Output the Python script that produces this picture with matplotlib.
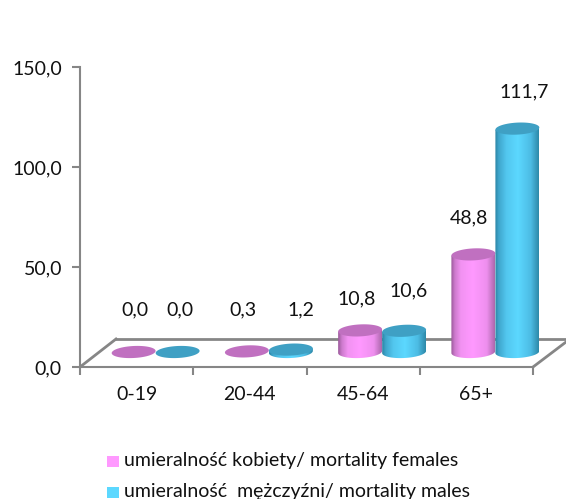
import numpy as np
import matplotlib
matplotlib.use("Agg")
import matplotlib.pyplot as plt
from matplotlib.colors import LinearSegmentedColormap
from matplotlib.patches import PathPatch, Polygon, Rectangle
from matplotlib.path import Path

categories = ["0-19", "20-44", "45-64", "65+"]
females = [0.0, 0.3, 10.8, 48.8]
males = [0.0, 1.2, 10.6, 111.7]
y_ticks = [0, 50, 100, 150]
series_names = ["umieralność kobiety/ mortality females", "umieralność  mężczyźni/ mortality males"]

# label offsets from the top of each cylinder, in pixels (placed by hand in the original)
female_label_off = [(1, 42), (-4, 42), (-3, 32), (-4, 37)]
male_label_off = [(2, 42), (10, 40), (4, 40), (7, 37)]

W, H = 566, 499
plt.rcParams["font.family"] = ["Lato", "DejaVu Sans"]
fs = 14
grey = "#868686"
txt = "#111111"

fig = plt.figure(figsize=(W / 100, H / 100), dpi=100)
left, right, top, bottom = 80, 533, 67, 367
ax = fig.add_axes([left / W, 1 - bottom / H, (right - left) / W, (bottom - top) / H])
px_x = 4 / (right - left)
px_y = 150 / (bottom - top)

# floor depth
depth_x, depth_y = 36, 28
back_x = [0 + depth_x * px_x, 4 + 33 * px_x]
ax.plot(back_x, [depth_y * px_y] * 2, color=grey, lw=2, clip_on=False, zorder=1)
ax.plot([0, depth_x * px_x], [0, depth_y * px_y], color=grey, lw=2, clip_on=False, zorder=1)
ax.plot([4, 4 + 33 * px_x], [0, 25 * px_y], color=grey, lw=2, clip_on=False, zorder=1)

pink_map = LinearSegmentedColormap.from_list("p", [(0, "#9C5A9C"), (0.08, "#CC7ACC"), (0.22, "#F292F2"), (0.5, "#FF99FF"), (0.82, "#EE8FEE"), (1, "#AD68AD")])
blue_map = LinearSegmentedColormap.from_list("b", [(0, "#2C86A6"), (0.08, "#3FA6CC"), (0.25, "#52C6EE"), (0.52, "#5CD8FF"), (0.82, "#4CBCE4"), (1, "#2E8AAA")])

bar_w = 44 * px_x
ell_h = 12 * px_y
base = 15 * px_y
shift = 19 * px_x
tilt = np.radians(3)


def ellipse_xy(cx, cy, t):
    a, b = 22.0, 6.0
    ex = a * np.cos(t) * np.cos(tilt) - b * np.sin(t) * np.sin(tilt)
    ey = a * np.cos(t) * np.sin(tilt) + b * np.sin(t) * np.cos(tilt)
    return cx + ex * px_x, cy + ey * px_y


def cylinder(cx, val, cmap, top_col, z):
    y_top = base + val
    if val > 0.5:
        # body: sides plus the lower half of the base ellipse
        t = np.linspace(np.pi, 2 * np.pi, 40)
        bx, by = ellipse_xy(cx, base, t)
        tx, ty = ellipse_xy(cx, y_top, np.array([0.0, np.pi]))
        verts = list(zip(bx, by)) + list(zip(tx, ty))
        clip = PathPatch(Path(verts + [verts[0]]), transform=ax.transData, fc="none", ec="none", clip_on=False)
        ax.add_patch(clip)
        grad = np.linspace(0, 1, 64).reshape(1, -1)
        im = ax.imshow(grad, cmap=cmap, aspect="auto", zorder=z,
                       extent=[cx - bar_w / 2, cx + bar_w / 2, base - ell_h, y_top + ell_h])
        im.set_clip_box(fig.bbox)
        im.set_clip_path(clip)
    t = np.linspace(0, 2 * np.pi, 60)
    ex, ey = ellipse_xy(cx, y_top, t)
    ax.add_patch(Polygon(np.column_stack([ex, ey]), closed=True, fc=top_col, ec="none", zorder=z + 0.1, clip_on=False))
    return y_top


# draw back to front so that neighbouring cylinders overlap as in the original
for i in range(len(categories)):
    cf = i + 0.5 + shift - bar_w / 2
    cm = i + 0.5 + shift + bar_w / 2
    top_m = cylinder(cm, males[i], blue_map, "#3FA0C4", 4)
    top_f = cylinder(cf, females[i], pink_map, "#C070C0", 3)
    for c, v, tp, off in [(cf, females[i], top_f, female_label_off[i]), (cm, males[i], top_m, male_label_off[i])]:
        ax.annotate(f"{v:.1f}".replace(".", ","), (c, tp), xytext=(off[0] * 0.72, off[1] * 0.72),
                    textcoords="offset points", ha="center", va="center", fontsize=fs, color=txt)

ax.set_xlim(0, 4)
ax.set_ylim(0, 150)
ax.patch.set_visible(False)
for s in ["top", "right"]:
    ax.spines[s].set_visible(False)
for s in ["left", "bottom"]:
    ax.spines[s].set_color(grey)
    ax.spines[s].set_linewidth(1.5)
ax.set_yticks(y_ticks)
ax.set_yticklabels([f"{v:.1f}".replace(".", ",") for v in y_ticks], fontsize=fs, color=txt)
ax.set_xticks(range(5))
ax.set_xticklabels([])
ax.tick_params(axis="both", color=grey, width=1.5, length=6)
ax.tick_params(axis="y", pad=7)
for i, c in enumerate(categories):
    ax.text(i + 0.5, -28 * px_y, c, ha="center", va="center", fontsize=fs, color=txt)

# legend
legend_cols = ["#FF99FF", "#5CD8FF"]
legend_y = [461.5, 492.5]
for name, col, ly in zip(series_names, legend_cols, legend_y):
    fig.patches.append(Rectangle((107 / W, 1 - (ly + 5.5) / H), 12 / W, 11 / H, transform=fig.transFigure, fc=col, ec="none"))
    fig.text(124 / W, 1 - (ly - 1) / H, name, ha="left", va="center", fontsize=fs, color=txt)

fig.savefig("out.png", dpi=100)
